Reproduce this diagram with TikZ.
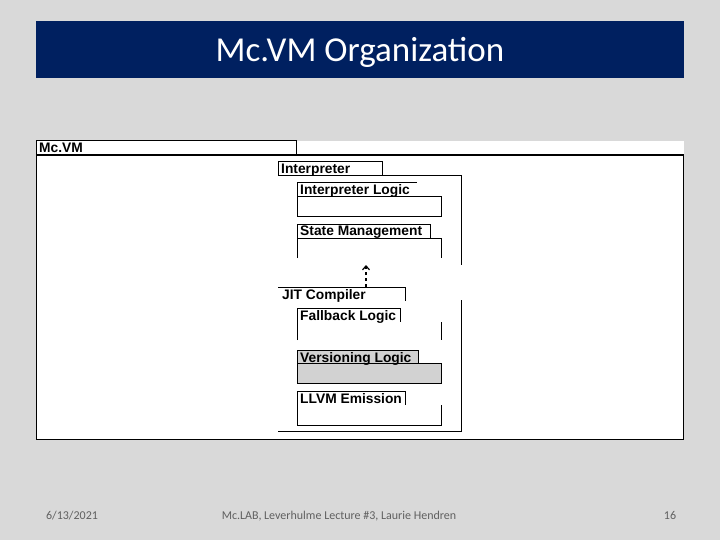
\documentclass[tikz,border=0pt]{standalone}
\usepackage{fontspec}
\setmainfont{Carlito}
\newfontfamily\arialf{Liberation Sans}
\usetikzlibrary{arrows.meta}
\begin{document}
\begin{tikzpicture}[x=1pt,y=-1pt,
  ln/.style={draw=black,line width=1pt},
  lbl/.style={anchor=base west,inner sep=1pt,font=\arialf\bfseries\fontsize{13.8}{15}\selectfont},
  foot/.style={anchor=base,text=gray!75!black,font=\fontsize{12}{14}\selectfont}]
\fill[gray!30] (0,0) rectangle (720,540);
\useasboundingbox (0,0) rectangle (720,540);
\fill[fill={rgb,255:red,0;green,32;blue,96}] (36,21) rectangle (684,78);
\node[text=white,font=\fontsize{35}{40}\selectfont] (title) at (360,52) {Mc.VM Organization};
% Mc.VM package
\fill[white] (36,141) rectangle (684,439);
\draw[ln] (36,141) rectangle (296,155);
\draw[ln] (36,155) rectangle (683,439);
\draw[line width=2pt] (36,155) -- (683,155);
\node[lbl] (mcvm) at (38,153) {Mc.VM};
% Interpreter
\draw[ln] (278,176) -- (278,162) -- (382,162) -- (382,176);
\draw[ln] (278,176) -- (461,176) -- (461,265);
\node[lbl] (interp) at (280,174) {Interpreter};
\draw[ln] (297,197) -- (297,183) -- (417,183);
\draw[ln] (297,197) rectangle (441,217);
\node[lbl] (ilogic) at (299,195) {Interpreter Logic};
\draw[ln] (297,238) -- (297,225) -- (430,225) -- (430,238);
\draw[ln] (297,258) -- (297,238) -- (441,238) -- (441,258);
\node[lbl] (state) at (299,236) {State Management};
% JIT
\draw[ln] (278,287) -- (405,287) -- (405,301);
\node[lbl] (jit) at (281,299) {JIT Compiler};
\coordinate (arrS) at (366,287);
\coordinate (arrE) at (366,265);
\draw[line width=1.2pt,dashed,-{Straight Barb[length=4pt,width=7pt]}] (arrS) -- (arrE);
\draw[ln] (461,300) -- (461,431) -- (278,431);
\draw[ln] (297,340) -- (297,308) -- (400,308) -- (400,322);
\draw[ln] (441,322) -- (441,340);
\node[lbl] (fb) at (299,320) {Fallback Logic};
\fill[gray!35] (297,350) rectangle (418,363);
\draw[ln] (297,363) -- (297,350) -- (418,350) -- (418,363);
\draw[ln,fill=gray!35] (297,363) rectangle (441,383);
\node[lbl] (ver) at (299,362) {Versioning Logic};
\draw[ln] (297,405) -- (297,391) -- (405,391) -- (405,405);
\draw[ln] (297,405) -- (297,425) -- (441,425) -- (441,405);
\node[lbl] (llvm) at (299,403) {LLVM Emission};
% footer
\node[foot] (date) at (72,519) {6/13/2021};
\node[foot] (mid) at (339,519) {Mc.LAB, Leverhulme Lecture \#3, Laurie Hendren};
\node[foot] (pg) at (670,519) {16};
\end{tikzpicture}
\end{document}
